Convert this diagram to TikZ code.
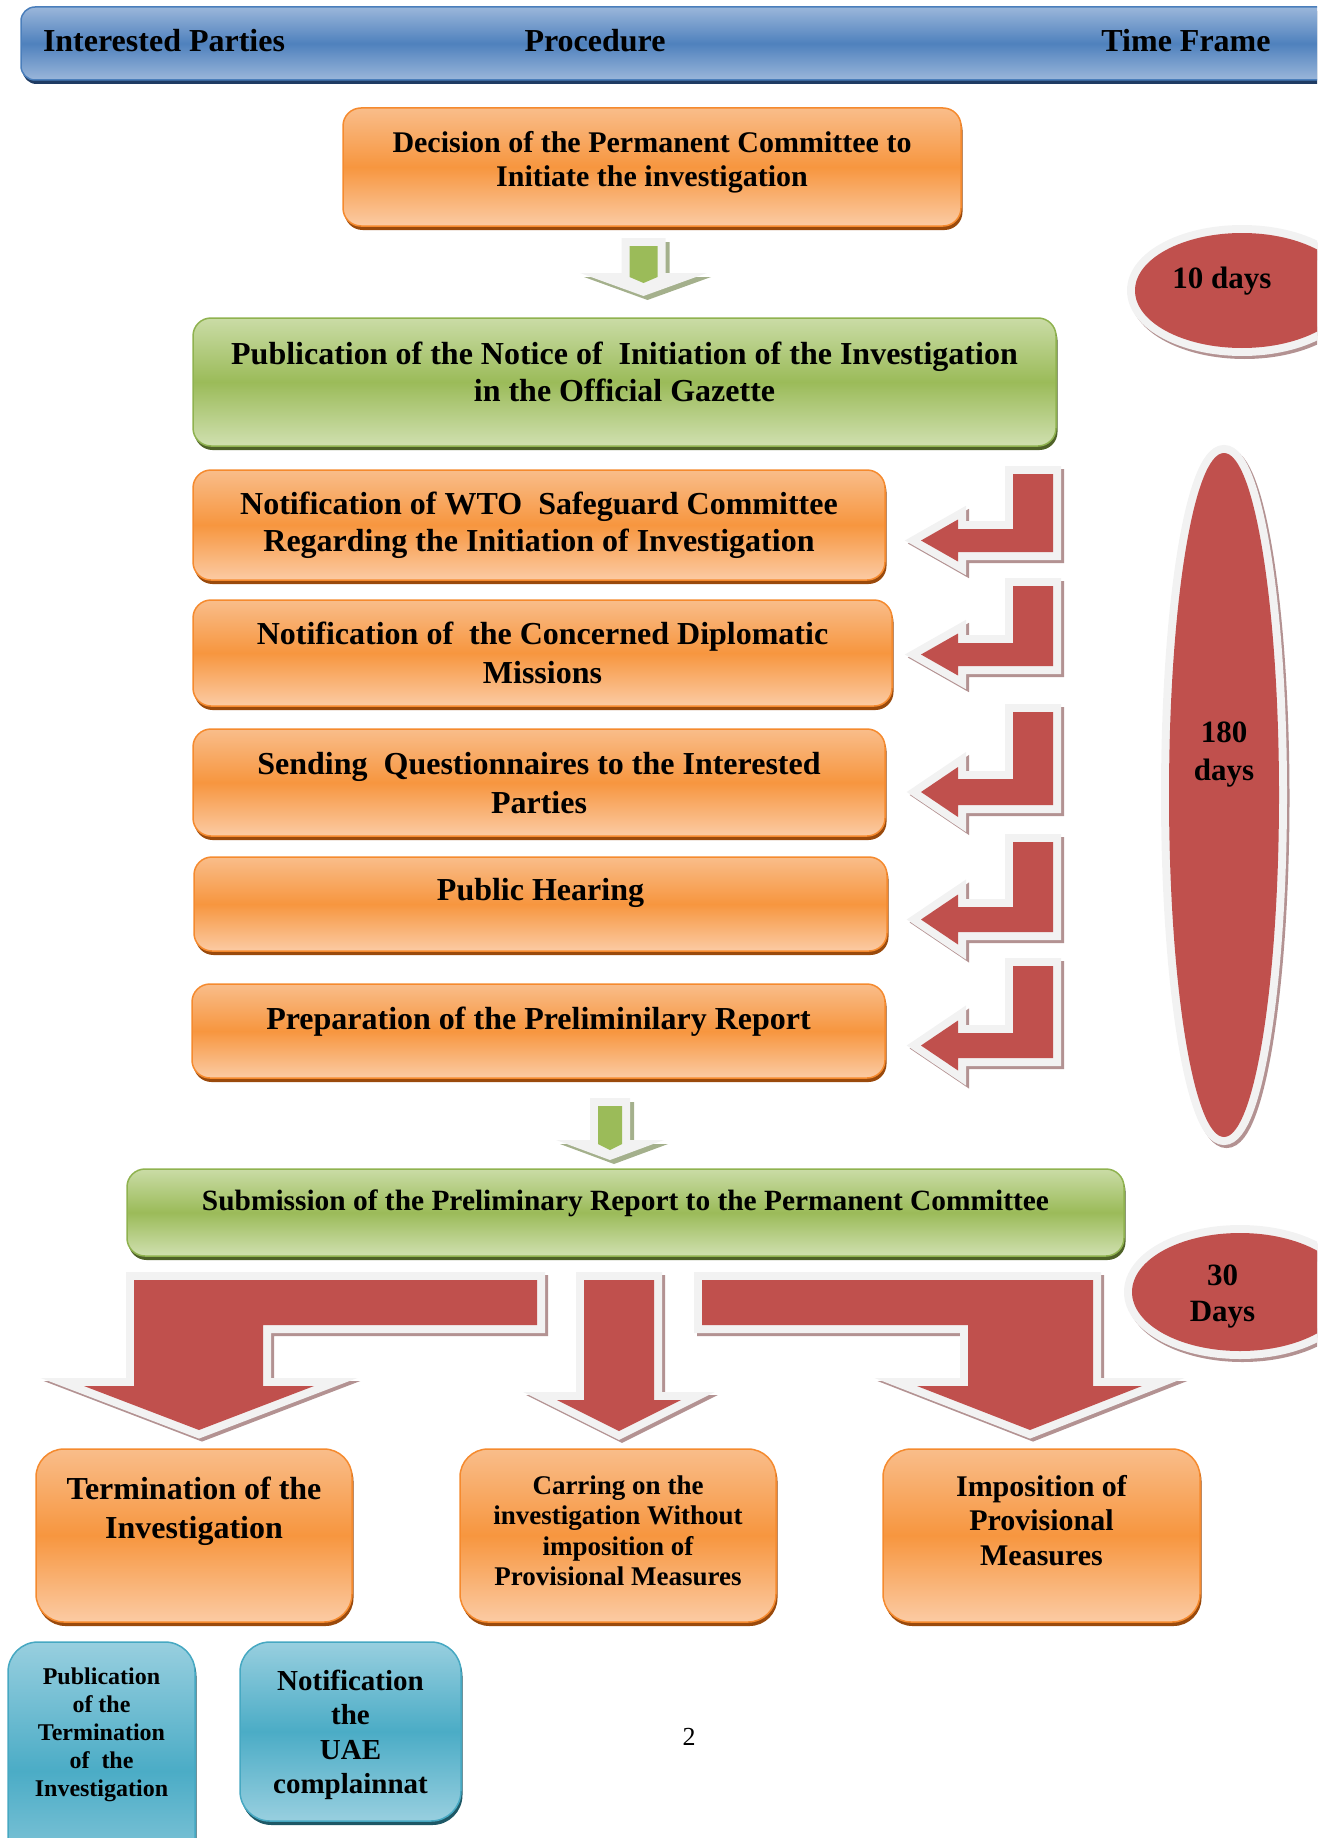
\documentclass[tikz,border=0pt]{standalone}
\usepackage{fontspec}
\setmainfont{Liberation Serif}
\usetikzlibrary{shapes.geometric,shadows}

\definecolor{arrowred}{HTML}{C0504D}
\definecolor{arrowshade}{HTML}{B39292}
\definecolor{rimgray}{HTML}{F2F2F2}
\definecolor{orangetop}{HTML}{F9BD8A}
\definecolor{orangemid}{HTML}{F7963F}
\definecolor{orangebot}{HTML}{FBCBA4}
\definecolor{orangeedge}{HTML}{F58A2E}
\definecolor{orangedark}{HTML}{9A4A0C}
\definecolor{greentop}{HTML}{CADCA6}
\definecolor{greenmid}{HTML}{9BBB59}
\definecolor{greenbot}{HTML}{D0E0B0}
\definecolor{greenedge}{HTML}{8FB24F}
\definecolor{greendark}{HTML}{4F6228}
\definecolor{greenshade}{HTML}{A4B08C}
\definecolor{bluetop}{HTML}{9AB6DA}
\definecolor{bluemid}{HTML}{4F81BD}
\definecolor{bluebot}{HTML}{9AB6DA}
\definecolor{blueedge}{HTML}{4A7EBB}
\definecolor{bluedark}{HTML}{1F3B63}
\definecolor{cyantop}{HTML}{98CFDF}
\definecolor{cyanmid}{HTML}{4BACC6}
\definecolor{cyanbot}{HTML}{98CFDF}
\definecolor{cyanedge}{HTML}{46A8C2}
\definecolor{cyandark}{HTML}{1E5866}

\begin{document}
\begin{tikzpicture}[x=1pt, y=-1pt,
    cardbox/.style={rectangle, rounded corners=18pt, line width=1.5pt,
        anchor=base, inner sep=0pt, align=center},
    headbar/.style={cardbox, rounded corners=14pt, anchor=center, draw=blueedge,
        top color=bluetop, bottom color=bluebot, middle color=bluemid,
        drop shadow={shadow xshift=1.5pt, shadow yshift=-4pt, fill=bluedark, opacity=1}},
    headtext/.style={anchor=base, inner sep=0pt, font=\bfseries\fontsize{32}{38}\selectfont},
    procbox/.style={cardbox, draw=orangeedge,
        top color=orangetop, bottom color=orangebot, middle color=orangemid,
        drop shadow={shadow xshift=1.5pt, shadow yshift=-4pt, fill=orangedark, opacity=1},
        font=\bfseries\fontsize{32}{37}\selectfont},
    stagebox/.style={cardbox, draw=greenedge,
        top color=greentop, bottom color=greenbot, middle color=greenmid,
        drop shadow={shadow xshift=1.5pt, shadow yshift=-4pt, fill=greendark, opacity=1},
        font=\bfseries\fontsize{32}{37}\selectfont},
    outcomebox/.style={procbox, rounded corners=28pt},
    noticebox/.style={cardbox, rounded corners=30pt, draw=cyanedge,
        top color=cyantop, bottom color=cyanbot, middle color=cyanmid,
        drop shadow={shadow xshift=1.5pt, shadow yshift=-4pt, fill=cyandark, opacity=1}},
    timebubble/.style={ellipse, fill=arrowred, inner sep=0pt, align=center,
        general shadow={shadow xshift=2.5pt, shadow yshift=-3pt, fill=arrowshade,
            draw=arrowshade, line width=16pt},
        preaction={draw=rimgray, line width=16pt},
        font=\bfseries\fontsize{31}{37}\selectfont},
    bentarrow/.style={fill=arrowred, line join=miter,
        general shadow={shadow xshift=3pt, shadow yshift=-3pt, fill=arrowshade,
            draw=arrowshade, line width=16pt},
        preaction={draw=rimgray, line width=16pt}}
]
\useasboundingbox (0,0) rectangle (1317,1838);
\clip (0,0) rectangle (1317,1838);

% header
\node (hdr) [headbar, minimum width=1319pt, minimum height=73pt] at (680.5,43.5) {};
\node (hdrparties) [headtext] at (164,52) {Interested Parties};
\node (hdrprocedure) [headtext] at (595,52) {Procedure};
\node (hdrtime) [headtext] at (1186,52) {Time Frame};

% procedure (placed at the baseline of the last line)
\node (decision) [procbox, minimum width=618pt, text height=79pt, text depth=39pt,
    font=\bfseries\fontsize{30}{35}\selectfont] at (652,187)
    {Decision of the Permanent Committee to\\Initiate the investigation};
\node (publication) [stagebox, minimum width=863pt, text height=83pt, text depth=45pt]
    at (624.5,401) {Publication of the Notice of~ Initiation of the Investigation\\in the Official Gazette};
\node (wto) [procbox, minimum width=692pt, text height=81pt, text depth=29pt] at (539,551)
    {Notification of WTO~ Safeguard Committee\\Regarding the Initiation of Investigation};
\node (diplomatic) [procbox, minimum width=699pt, text height=83pt, text depth=23pt,
    font=\bfseries\fontsize{32}{39}\selectfont] at (542.5,683)
    {Notification of~ the Concerned Diplomatic\\Missions};
\node (questionnaires) [procbox, minimum width=692pt, text height=84pt, text depth=23pt,
    font=\bfseries\fontsize{32}{39}\selectfont] at (539,813)
    {Sending~ Questionnaires to the Interested\\Parties};
\node (hearing) [procbox, minimum width=693pt, text height=43pt, text depth=51pt]
    at (540.5,900) {Public Hearing};
\node (preparation) [procbox, minimum width=693pt, text height=45pt, text depth=49pt]
    at (538.5,1029) {Preparation of the Preliminilary Report};
\node (submission) [stagebox, minimum width=997pt, text height=41pt, text depth=46pt,
    font=\bfseries\fontsize{29.4}{34}\selectfont] at (625.5,1210)
    {Submission of the Preliminary Report to the Permanent Committee};

% outcomes
\node (termination) [outcomebox, minimum width=316pt, text height=89pt, text depth=84pt,
    font=\bfseries\fontsize{32}{39}\selectfont] at (194,1538)
    {Termination of the\\Investigation};
\node (carrying) [outcomebox, minimum width=316pt, text height=136.5pt, text depth=36.5pt,
    font=\bfseries\fontsize{27}{30.5}\selectfont] at (618,1585.5)
    {Carring on the\\investigation Without\\imposition of\\Provisional Measures};
\node (imposition) [outcomebox, minimum width=317pt, text height=116pt, text depth=57pt,
    font=\bfseries\fontsize{30}{34.5}\selectfont] at (1041.5,1565)
    {Imposition of\\Provisional\\Measures};
\node (pubterm) [noticebox, minimum width=187pt, text height=154pt, text depth=104pt,
    font=\bfseries\fontsize{24}{28}\selectfont] at (101.5,1796)
    {Publication\\of the\\Termination\\of~ the\\Investigation};
\node (notifyuae) [noticebox, minimum width=221pt, text height=151.5pt, text depth=27.5pt,
    font=\bfseries\fontsize{29}{34.5}\selectfont] at (350.5,1793.5)
    {Notification\\the\\UAE\\complainnat};

% time frame
\node (tendays) [timebubble, minimum width=214pt, minimum height=115pt,
    text height=22pt, text depth=27pt] at (1242,290.5) {10 days\rule{40pt}{0pt}};
\node (longspan) [timebubble, minimum width=110pt, minimum height=684pt,
    text height=60pt, text depth=90pt, font=\bfseries\fontsize{31}{38}\selectfont]
    at (1224,795) {180\\days};
\node (thirtydays) [timebubble, minimum width=216pt, minimum height=118pt,
    text height=66pt, text depth=8pt, font=\bfseries\fontsize{31}{36}\selectfont]
    at (1240,1292) {30\rule{35pt}{0pt}\\Days\rule{35pt}{0pt}};

% small green arrows
\foreach \cx/\ty/\hy/\py/\hw/\sw in {643.5/238/273/296/63.5/22, 610/1098/1140/1160/54/20} {
  \path[fill=greenshade, shift={(4,4)}] (\cx-\sw,\ty) -- (\cx+\sw,\ty) -- (\cx+\sw,\hy)
    -- (\cx+\hw,\hy) -- (\cx,\py) -- (\cx-\hw,\hy) -- (\cx-\sw,\hy) -- cycle;
  \path[fill=rimgray] (\cx-\sw,\ty) -- (\cx+\sw,\ty) -- (\cx+\sw,\hy)
    -- (\cx+\hw,\hy) -- (\cx,\py) -- (\cx-\hw,\hy) -- (\cx-\sw,\hy) -- cycle;
  \path[fill=greenmid] (\cx-\sw+8,\ty+8) -- (\cx+\sw-8,\ty+8) -- (\cx+\sw-8,\hy+4)
    -- (\cx,\hy+10) -- (\cx-\sw+8,\hy+4) -- cycle;
}

% bent arrows towards the procedure steps
\foreach \ytop/\ybar/\ybot/\hh in {474/529/552/21, 586/643/666/21, 712/779/805/25,
    842/907/932/25, 966/1033/1058/25} {
  \pgfmathsetmacro\ymid{(\ybar+\ybot)/2}
  \path[bentarrow] (1053,\ytop) -- (1053,\ybot) -- (958,\ybot) -- (958,\ymid+\hh)
    -- (921,\ymid) -- (958,\ymid-\hh) -- (958,\ybar) -- (1013,\ybar) -- (1013,\ytop) -- cycle;
}

% outcome arrows
\path[bentarrow] (134,1280) -- (537,1280) -- (537,1325) -- (263,1325) -- (263,1386)
  -- (314,1386) -- (199,1430) -- (84,1386) -- (134,1386) -- cycle;
\path[bentarrow] (584,1280) -- (654,1280) -- (654,1400) -- (681,1400) -- (619,1431)
  -- (557,1400) -- (584,1400) -- cycle;
\path[bentarrow] (702,1280) -- (1093,1280) -- (1093,1386) -- (1142,1386) -- (1030,1430)
  -- (917,1386) -- (968,1386) -- (968,1325) -- (702,1325) -- cycle;

\node (pagenum) [anchor=base, inner sep=0pt, font=\fontsize{26}{30}\selectfont] at (689,1745) {2};
\end{tikzpicture}
\end{document}
